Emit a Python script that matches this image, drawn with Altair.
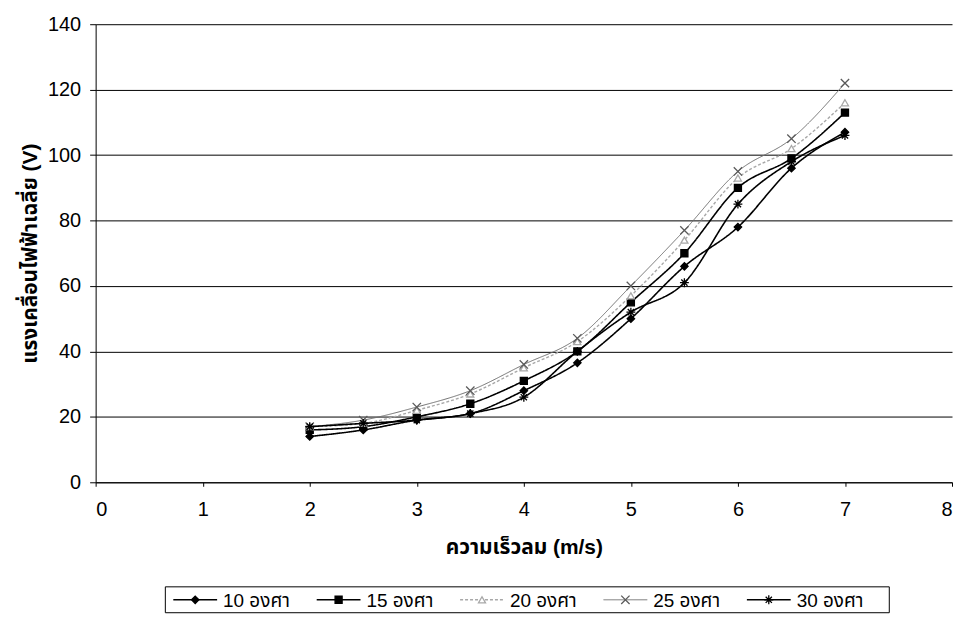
import altair as alt
import pandas as pd

wind = [2, 2.5, 3, 3.5, 4, 4.5, 5, 5.5, 6, 6.5, 7]
series_names = ["10 องศา", "15 องศา", "20 องศา", "25 องศา", "30 องศา"]
v10 = [14, 16, 19, 21, 28, 36.5, 50, 66, 78, 96, 107]
v15 = [16, 17, 20, 24, 31, 40, 55, 70, 90, 99, 113]
v20 = [17, 18, 22, 27, 35, 43, 57, 74, 93, 102, 116]
v25 = [17, 19, 23, 28, 36, 44, 60, 77, 95, 105, 122]
v30 = [17, 18, 19, 21, 26, 40, 52, 61, 85, 98, 106]
values = [v10, v15, v20, v25, v30]

rows = []
for name, vals in zip(series_names, values):
    for w, v in zip(wind, vals):
        rows.append({"series": name, "wind": w, "emf": v})
df = pd.DataFrame(rows)

ASTER = "M-1,0L1,0M0,-1L0,1M-0.7,-0.7L0.7,0.7M-0.7,0.7L0.7,-0.7"
XMARK = "M-1,-1L1,1M-1,1L1,-1"
styles = [
    dict(color="#000000", dash=[1, 0], width=1.6, shape="diamond", fill="#000000", stroke="#000000", size=55, filled=True),
    dict(color="#000000", dash=[1, 0], width=1.6, shape="square", fill="#000000", stroke="#000000", size=50, filled=True),
    dict(color="#a8a8a8", dash=[3, 2], width=1.4, shape="triangle-up", fill="#ffffff", stroke="#a8a8a8", size=50, filled=False),
    dict(color="#6e6e6e", dash=[1, 0], width=1.0, shape=XMARK, fill="#ffffff", stroke="#5a5a5a", size=70, filled=False),
    dict(color="#000000", dash=[1, 0], width=1.6, shape=ASTER, fill="#000000", stroke="#000000", size=80, filled=False),
]

FONT = "Liberation Sans, Arial, Noto Sans Thai, Noto Sans, sans-serif"

xscale = alt.Scale(domain=[0, 8], nice=False, zero=False)
yscale = alt.Scale(domain=[0, 140], nice=False)

layers = []
for i, (name, st) in enumerate(zip(series_names, styles)):
    base = alt.Chart(df).transform_filter(alt.datum.series == name)
    enc_x = alt.X("wind:Q", scale=xscale,
                  axis=alt.Axis(values=list(range(0, 9)), format="d", grid=False, title="ความเร็วลม (m/s)",
                                tickSize=4, labelPadding=13, titlePadding=18))
    enc_y = alt.Y("emf:Q", scale=yscale,
                  axis=alt.Axis(values=list(range(0, 141, 20)), format="d", grid=True,
                                title="แรงเคลื่อนไฟฟ้าเฉลี่ย (V)",
                                tickSize=6, labelPadding=9, titlePadding=7))
    line = base.mark_line(color=st["color"], strokeDash=st["dash"], strokeWidth=st["width"],
                          interpolate="monotone").encode(x=enc_x, y=enc_y)
    pt = base.mark_point(shape=st["shape"], fill=st["fill"], stroke=st["stroke"], size=st["size"],
                         filled=st["filled"], strokeWidth=1.3, opacity=1).encode(x="wind:Q", y="emf:Q")
    layers += [line, pt]

# legend (layout chrome), positions relative to the plot area's top-left corner
LX0, LX1 = 70, 797
LY = 578
STEP = 144
box = alt.Chart(pd.DataFrame({"k": [0]})).mark_rect(fill="#ffffff", stroke="#000000", strokeWidth=1).encode(
    x=alt.value(LX0), x2=alt.value(LX1), y=alt.value(LY - 13), y2=alt.value(LY + 13))
layers.append(box)
for i, (name, st) in enumerate(zip(series_names, styles)):
    one = pd.DataFrame({"series": [name]})
    x1 = LX0 + 8 + i * STEP
    seg = alt.Chart(one).mark_rule(color=st["color"], strokeDash=st["dash"], strokeWidth=st["width"]).encode(
        x=alt.value(x1), x2=alt.value(x1 + 44), y=alt.value(LY))
    mk = alt.Chart(one).mark_point(shape=st["shape"], fill=st["fill"], stroke=st["stroke"], size=st["size"],
                                   filled=st["filled"], strokeWidth=1.3, opacity=1).encode(
        x=alt.value(x1 + 22), y=alt.value(LY))
    tx = alt.Chart(one).mark_text(align="left", baseline="middle", fontSize=19, font=FONT, color="#000000").encode(
        x=alt.value(x1 + 50), y=alt.value(LY + 1), text="series:N")
    layers += [seg, mk, tx]

chart = alt.layer(*layers).properties(
    width=860, height=460,
    autosize=alt.AutoSizeParams(type="none"),
    padding={"left": 88, "top": 15, "right": 4, "bottom": 134},
    background="#ffffff",
).configure_view(stroke=None).configure_axis(
    domainColor="#000000", tickColor="#000000", gridColor="#000000", gridWidth=1,
    labelFont=FONT, labelFontSize=20, labelColor="#000000",
    titleFont=FONT, titleFontSize=21, titleFontWeight="bold", titleColor="#000000",
    domainWidth=1,
)

chart.save("out.html", embed_options={"renderer": "svg", "actions": False})
